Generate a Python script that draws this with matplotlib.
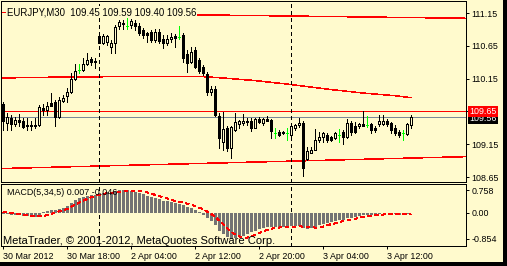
import matplotlib
matplotlib.use("Agg")
import matplotlib.pyplot as plt
from matplotlib.patches import Rectangle
import numpy as np

BG = "#FFFACD"
PX = 0.72  # one pixel in points at dpi 100
THIN = 0.36  # keeps non-antialiased lines one pixel thick

# --- data (EURJPY M30) ---
opens = [109.76, 109.48, 109.55, 109.46, 109.52, 109.51, 109.45, 109.43, 109.45, 109.44,
         109.70, 109.67, 109.78, 109.80, 109.57, 109.81, 109.89, 109.94, 110.15, 110.28,
         110.28, 110.38, 110.45, 110.42, 110.80, 110.70, 110.71, 110.63, 110.70, 110.95,
         110.98, 110.95, 110.97, 111.00, 110.95, 110.89, 110.84, 110.86, 110.74, 110.86,
         110.75, 110.70, 110.75, 110.80, 110.79, 110.82, 110.53, 110.41, 110.58, 110.43,
         110.33, 110.22, 109.94, 109.99, 109.58, 109.18, 109.40, 109.09, 109.37, 109.46,
         109.47, 109.49, 109.50, 109.40, 109.53, 109.47, 109.54, 109.52, 109.32, 109.34,
         109.33, 109.32, 109.29, 109.39, 109.44, 109.48, 108.92, 109.02, 109.06, 109.21,
         109.26, 109.29, 109.26, 109.24, 109.29, 109.34, 109.26, 109.48, 109.42, 109.42,
         109.46, 109.44, 109.46, 109.39, 109.46, 109.46, 109.51, 109.47, 109.39, 109.34,
         109.32, 109.31, 109.45]
highs = [109.79, 109.63, 109.60, 109.56, 109.61, 109.55, 109.55, 109.50, 109.55, 109.75,
         109.76, 109.80, 109.93, 109.83, 109.87, 109.90, 110.01, 110.23, 110.37, 110.38,
         110.46, 110.54, 110.48, 110.47, 110.86, 110.83, 110.81, 110.74, 110.97, 111.04,
         111.04, 111.10, 111.06, 111.04, 111.00, 110.92, 110.86, 110.89, 110.91, 110.91,
         110.81, 110.81, 110.85, 110.83, 110.95, 110.84, 110.59, 110.63, 110.63, 110.46,
         110.36, 110.25, 110.03, 110.03, 109.62, 109.64, 109.43, 109.43, 109.63, 109.52,
         109.61, 109.55, 109.55, 109.55, 109.56, 109.55, 109.58, 109.53, 109.40, 109.37,
         109.35, 109.40, 109.44, 109.46, 109.55, 109.50, 109.11, 109.11, 109.38, 109.33,
         109.34, 109.32, 109.28, 109.34, 109.38, 109.37, 109.54, 109.51, 109.49, 109.47,
         109.65, 109.58, 109.48, 109.43, 109.60, 109.60, 109.54, 109.49, 109.44, 109.37,
         109.36, 109.47, 109.59]
lows = [109.37, 109.37, 109.37, 109.42, 109.43, 109.39, 109.37, 109.37, 109.40, 109.42,
        109.60, 109.60, 109.75, 109.42, 109.55, 109.79, 109.79, 109.93, 110.13, 110.23,
        110.27, 110.36, 110.36, 110.31, 110.69, 110.68, 110.66, 110.54, 110.54, 110.91,
        110.91, 110.91, 110.92, 110.89, 110.81, 110.77, 110.71, 110.71, 110.71, 110.70,
        110.61, 110.66, 110.71, 110.63, 110.76, 110.40, 110.25, 110.39, 110.31, 110.23,
        110.20, 109.90, 109.90, 109.58, 109.09, 109.06, 109.04, 108.94, 109.35, 109.40,
        109.44, 109.44, 109.35, 109.39, 109.48, 109.44, 109.50, 109.24, 109.24, 109.28,
        109.30, 109.21, 109.24, 109.37, 109.41, 108.67, 108.91, 109.01, 109.06, 109.19,
        109.19, 109.19, 109.20, 109.23, 109.19, 109.16, 109.24, 109.29, 109.32, 109.39,
        109.42, 109.41, 109.32, 109.34, 109.43, 109.44, 109.42, 109.32, 109.29, 109.26,
        109.21, 109.29, 109.40]
closes = [109.50, 109.56, 109.46, 109.52, 109.49, 109.41, 109.43, 109.45, 109.43, 109.71,
          109.67, 109.74, 109.74, 109.57, 109.83, 109.86, 109.94, 110.15, 110.26, 110.28,
          110.37, 110.43, 110.41, 110.40, 110.70, 110.80, 110.80, 110.70, 110.94, 111.01,
          111.00, 110.95, 111.03, 110.95, 110.84, 110.81, 110.81, 110.74, 110.86, 110.73,
          110.70, 110.75, 110.79, 110.77, 110.79, 110.46, 110.39, 110.55, 110.33, 110.26,
          110.23, 109.95, 109.99, 109.60, 109.24, 109.38, 109.09, 109.41, 109.49, 109.50,
          109.50, 109.50, 109.40, 109.54, 109.49, 109.53, 109.50, 109.35, 109.32, 109.29,
          109.32, 109.32, 109.42, 109.44, 109.48, 108.78, 109.05, 109.06, 109.22, 109.26,
          109.32, 109.22, 109.21, 109.32, 109.29, 109.26, 109.47, 109.34, 109.34, 109.46,
          109.43, 109.44, 109.37, 109.36, 109.51, 109.50, 109.46, 109.37, 109.32, 109.29,
          109.32, 109.46, 109.56]

macd_hist = [-0.02, -0.03, -0.05, -0.06, -0.07, -0.09, -0.11, -0.13, -0.14, -0.08,
             0.03, 0.08, 0.11, 0.10, 0.14, 0.18, 0.24, 0.33, 0.42, 0.48,
             0.54, 0.57, 0.59, 0.60, 0.65, 0.67, 0.68, 0.68, 0.72, 0.76,
             0.758, 0.75, 0.74, 0.70, 0.66, 0.62, 0.57, 0.52, 0.50, 0.45,
             0.41, 0.38, 0.36, 0.33, 0.31, 0.25, 0.20, 0.16, 0.10, 0.03,
             -0.05, -0.15, -0.25, -0.40, -0.58, -0.68, -0.80, -0.854, -0.84, -0.80,
             -0.76, -0.70, -0.64, -0.58, -0.53, -0.49, -0.47, -0.47, -0.46, -0.45,
             -0.45, -0.45, -0.44, -0.43, -0.42, -0.50, -0.53, -0.50, -0.45, -0.40,
             -0.36, -0.33, -0.30, -0.27, -0.24, -0.22, -0.18, -0.15, -0.12, -0.10,
             -0.08, -0.07, -0.06, -0.05, -0.03, -0.01, -0.01, 0.00, -0.03, -0.06,
             -0.08, -0.04, 0.007]
macd_signal = [0.03, 0.02, 0.00, -0.02, -0.04, -0.05, -0.07, -0.09, -0.10, -0.11,
               -0.10, -0.07, -0.03, 0.01, 0.06, 0.09, 0.13, 0.20, 0.27, 0.34,
               0.40, 0.46, 0.52, 0.56, 0.60, 0.63, 0.65, 0.67, 0.68, 0.70,
               0.72, 0.73, 0.74, 0.74, 0.73, 0.71, 0.68, 0.64, 0.60, 0.56,
               0.52, 0.48, 0.44, 0.40, 0.37, 0.35, 0.31, 0.27, 0.23, 0.18,
               0.12, 0.05, -0.03, -0.12, -0.24, -0.37, -0.50, -0.61, -0.71, -0.77,
               -0.81, -0.81, -0.77, -0.72, -0.66, -0.61, -0.56, -0.52, -0.50, -0.48,
               -0.46, -0.46, -0.45, -0.45, -0.44, -0.45, -0.46, -0.47, -0.48, -0.48,
               -0.45, -0.41, -0.37, -0.34, -0.30, -0.27, -0.25, -0.22, -0.19, -0.16,
               -0.13, -0.11, -0.09, -0.07, -0.06, -0.05, -0.03, -0.02, -0.02, -0.03,
               -0.04, -0.05, -0.046]

# red channel lines (bar index, price)
top_line_bars = [0, 115.5]
top_line_vals = [111.16, 111.07]
bottom_line_bars = [0, 115.5]
bottom_line_vals = [108.78, 108.96]
mid_line_bars = [0, 10, 28, 50, 55, 63, 72, 81, 90, 98, 102]
mid_line_vals = [110.16, 110.17, 110.18, 110.18, 110.16, 110.12, 110.06, 109.99, 109.93, 109.89, 109.86]

hline_price = 109.65
bid_price = 109.56
separator_bars = [24, 72]

price_ticks = [111.15, 110.65, 110.15, 109.65, 109.15, 108.65]
macd_ticks = [0.758, 0.0, -0.854]
macd_tick_labels = ["0.758", "0.00", "-0.854"]
time_tick_bars = [0, 16, 32, 48, 64, 80, 96]
time_tick_labels = ["30 Mar 2012", "30 Mar 18:00", "2 Apr 04:00", "2 Apr 12:00",
                    "2 Apr 20:00", "3 Apr 04:00", "3 Apr 12:00"]

plt.rcParams["font.family"] = ["Liberation Sans", "DejaVu Sans"]
FS = 6.4

W, H = 507, 266
fig = plt.figure(figsize=(W / 100, H / 100), dpi=100, facecolor=BG)


def px_box(x0, y0, x1, y1):
    return [x0 / W, 1 - y1 / H, (x1 - x0) / W, (y1 - y0) / H]


ax = fig.add_axes(px_box(1, 1, 466, 182))
ax2 = fig.add_axes(px_box(1, 184, 466, 246))

for a in (ax, ax2):
    a.set_facecolor(BG)
    a.set_xlim(-0.5, 115.75)
    for s in a.spines.values():
        s.set_linewidth(PX)
        s.set_color("black")
    a.yaxis.tick_right()
    a.tick_params(axis="y", direction="out", length=2.2, width=PX, pad=1.5,
                  labelsize=FS, colors="black")

ax.set_ylim(108.574, 111.333)
ax2.set_ylim(-1.089, 0.957)

# --- main panel ---
x = np.arange(len(opens))
ax.axhline(hline_price, color="red", lw=THIN, antialiased=False, zorder=1)
ax.axhline(bid_price, color="#778899", lw=THIN, antialiased=False, zorder=1)
ax.plot(top_line_bars, top_line_vals, color="red", lw=THIN, antialiased=False, zorder=1)
ax.plot(bottom_line_bars, bottom_line_vals, color="red", lw=THIN, antialiased=False, zorder=1)
ax.plot(mid_line_bars, mid_line_vals, color="red", lw=THIN, antialiased=False, zorder=1)

for i in range(len(opens)):
    o, h, l, c = opens[i], highs[i], lows[i], closes[i]
    if o == c:
        ax.vlines(i, l, h, color="#00FF00", lw=PX, antialiased=False, zorder=3)
        ax.hlines(o, i - 0.3, i + 0.3, color="#00FF00", lw=PX, antialiased=False, zorder=3)
        continue
    ax.vlines(i, l, h, color="black", lw=PX, antialiased=False, zorder=3)
    fill = BG if c > o else "black"
    ax.bar(i, abs(c - o), bottom=min(o, c), width=0.5, color=fill, edgecolor="black",
           linewidth=PX, antialiased=False, zorder=4)

for b in separator_bars:
    ax.axvline(b, color="black", lw=PX, ls=(0, (4, 3)), antialiased=False, zorder=2)
    ax2.axvline(b, color="black", lw=PX, ls=(0, (4, 3)), antialiased=False, zorder=2)

ax.set_yticks(price_ticks)
# the 109.65 label is drawn by the red price box instead
ax.set_yticklabels(["" if p == hline_price else f"{p:.2f}" for p in price_ticks])
ax.tick_params(axis="x", bottom=False, labelbottom=False)

ax.text(0.0129, 0.939, "EURJPY,M30  109.45 109.59 109.40 109.56", transform=ax.transAxes,
        fontsize=6.9, va="center", ha="left", zorder=6,
        bbox=dict(boxstyle="square,pad=0.1", fc=BG, ec="none"))

# price labels on the axis: the red one sits on top of the bid label
ax.text(1.0065, bid_price - 0.012, f"{bid_price:.2f}", transform=ax.get_yaxis_transform(),
        fontsize=FS, color="white", va="center", ha="left", clip_on=False, zorder=7,
        bbox=dict(boxstyle="square,pad=0.15", fc="black", ec="none"))
ax.text(1.0065, hline_price, f"{hline_price:.2f}", transform=ax.get_yaxis_transform(),
        fontsize=FS, color="white", va="center", ha="left", clip_on=False, zorder=8,
        bbox=dict(boxstyle="square,pad=0.15", fc="red", ec="none"))

# --- MACD panel ---
ax2.bar(x, macd_hist, width=0.75, color="#737373", linewidth=0, antialiased=False, zorder=3)
ax2.plot(x, macd_signal, color="red", lw=THIN, ls=(0, (7, 6)), antialiased=False, zorder=4)
ax2.set_yticks(macd_ticks)
ax2.set_yticklabels(macd_tick_labels)
ax2.set_xticks(time_tick_bars)
ax2.set_xticklabels(time_tick_labels, ha="left")
ax2.tick_params(axis="x", direction="out", length=2.2, width=PX, pad=2,
                labelsize=FS, colors="black")

ax2.text(0.0129, 0.855, "MACD(5,34,5) 0.007 -0.046", transform=ax2.transAxes,
         fontsize=FS, va="center", ha="left", zorder=6)
ax2.text(0.005, 0.081, "MetaTrader, © 2001-2012, MetaQuotes Software Corp.",
         transform=ax2.transAxes, fontsize=8, va="center", ha="left", zorder=6)

# window frame strips (right and bottom)
fig.patches.append(Rectangle((503 / W, 0), 4 / W, 1, transform=fig.transFigure,
                             fc="black", ec="none"))
fig.patches.append(Rectangle((0, 0), 1, 4 / H, transform=fig.transFigure,
                             fc="black", ec="none"))

fig.savefig("out.png", dpi=100, facecolor=BG)
